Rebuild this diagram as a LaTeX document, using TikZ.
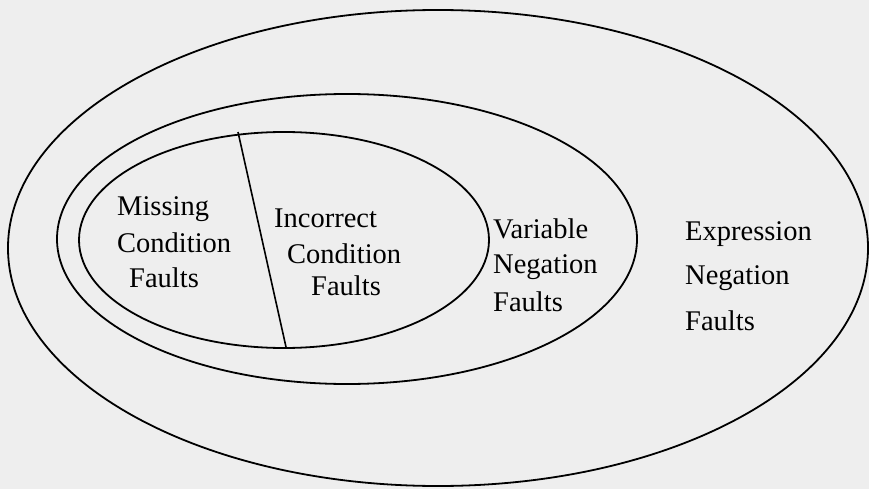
\documentclass[tikz,border=0pt]{standalone}
\usepackage{fontspec}
\setmainfont{Liberation Serif}
\begin{document}
\begin{tikzpicture}[x=1pt,y=-1pt,
  ring/.style={draw=black,line width=1.8pt},
  lbl/.style={anchor=base west,inner sep=0pt,font=\fontsize{28.5}{34}\selectfont}]
\useasboundingbox (0,0) rectangle (869,489);
\fill[gray!13] (0,0) rectangle (869,489);
% ellipses
\draw[ring] (438,248) ellipse [x radius=430pt, y radius=238pt];
\draw[ring] (347,239) ellipse [x radius=290pt, y radius=145pt];
\draw[ring] (284,240) ellipse [x radius=205pt, y radius=108pt];
% divider
\coordinate (dtop) at (238,132);
\coordinate (dbot) at (286,347);
\draw[line width=1.6pt] (dtop) -- (dbot);
% labels
\node[lbl] (m1) at (117,215) {Missing};
\node[lbl] (m2) at (117,252) {Condition};
\node[lbl] (m3) at (129,287) {Faults};
\node[lbl] (i1) at (274,227) {Incorrect};
\node[lbl] (i2) at (287,263) {Condition};
\node[lbl] (i3) at (311,295) {Faults};
\node[lbl] (v1) at (493,238) {Variable};
\node[lbl] (v2) at (493,273) {Negation};
\node[lbl] (v3) at (493,311) {Faults};
\node[lbl] (e1) at (685,240) {Expression};
\node[lbl] (e2) at (685,284) {Negation};
\node[lbl] (e3) at (685,330) {Faults};
\end{tikzpicture}
\end{document}
